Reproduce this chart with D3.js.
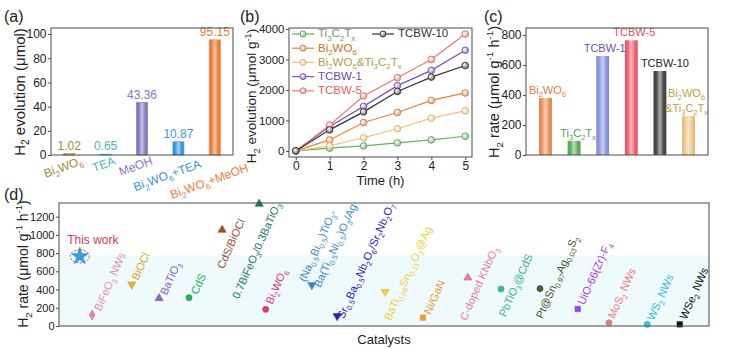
<!DOCTYPE html>
<html>
<head>
<meta charset="utf-8">
<script src="https://cdn.jsdelivr.net/npm/d3@7/dist/d3.min.js"></script>
<style>
  body { margin: 0; background: #fff; }
  text { font-family: "Liberation Sans", Arial, sans-serif; }
</style>
</head>
<body>
<svg id="chart"></svg>
<script>
// ---------- data ----------
// (a) H2 evolution with different sacrificial agents
const aCats = ["Bi_{2}WO_{6}", "TEA", "MeOH", "Bi_{2}WO_{6}+TEA", "Bi_{2}WO_{6}+MeOH"];
const aValues = [1.02, 0.65, 43.36, 10.87, 95.15];

// (b) H2 evolution vs time
const bTimes = [0, 1, 2, 3, 4, 5];
const bSeries = ["Ti_{3}C_{2}T_{x}", "Bi_{2}WO_{6}", "Bi_{2}WO_{6}&Ti_{3}C_{2}T_{x}", "TCBW-1", "TCBW-5", "TCBW-10"];
const bTi3C2Tx = [0, 90, 165, 265, 360, 480];
const bBi2WO6 = [0, 360, 930, 1260, 1655, 1900];
const bMixed = [0, 165, 430, 725, 1075, 1315];
const bTCBW1 = [0, 800, 1460, 2140, 2640, 3300];
const bTCBW5 = [0, 845, 1800, 2400, 3000, 3830];
const bTCBW10 = [0, 690, 1280, 1950, 2420, 2800];

// (c) H2 rate
const cCats = ["Bi_{2}WO_{6}", "Ti_{3}C_{2}T_{x}", "TCBW-1", "TCBW-5", "TCBW-10", "Bi_{2}WO_{6}|&Ti_{3}C_{2}T_{x}"];
const cValues = [380, 95, 660, 765, 560, 262];

// (d) comparison with other catalysts
const dCatalysts = [
  "This work",
  "BiFeO_{3} NWs",
  "BiOCl",
  "BaTiO_{3}",
  "CdS",
  "CdS/BiOCl",
  "0.7BiFeO_{3}/0.3BaTiO_{3}",
  "Bi_{2}WO_{6}",
  "(Na_{0.5}Bi_{0.5})TiO_{3}-|Ba(Ti_{0.5}Ni_{0.5})O_{3}/Ag",
  "Sr_{0.5}Ba_{0.5}Nb_{2}O_{6}/Sr_{2}Nb_{2}O_{7}",
  "BaTi_{0.89}Sn_{0.11}O_{3}@Ag",
  "Ni/GaN",
  "C-doped KNbO_{3}",
  "PbTiO_{3}@CdS",
  "Pt@Sn_{0.97}Ag_{0.03}S_{2}",
  "UiO-66(Zr)-F_{4}",
  "MoS_{2} NWs",
  "WS_{2} NWs",
  "WSe_{2} NWs"
];
const dPosition = [3.2, 5.1, 11.2, 15.4, 20, 25.1, 30.8, 31.8, 38.9, 42.8, 50.2, 56, 62.9, 68, 74, 79.8, 84.6, 90.5, 95.5];
const dRates = [765, 120, 457, 304, 311, 1054, 1340, 183, 450, 110, 376, 92, 530, 406, 410, 187, 36, 18, 18];

// ---------- styles ----------
const aColors = ["#a8953e", "#45bfc2", "#8f7fc4", "#3d9be0", "#f0843f"];
const aTextColors = ["#a08c3a", "#45b9bd", "#8a76bd", "#3a96da", "#ee7d3c"];
const aLabelShift = [[13, 0], [9, 0], [10, 0], [22, 3], [33, 7]];

const bColors = ["#62b262", "#e8843a", "#f3c274", "#8150bb", "#f07676", "#333333"];
const bTextColors = ["#6f9d6f", "#d9682e", "#b39b45", "#7446b2", "#e66060", "#333333"];

const cColors = ["#f2925e", "#5db35d", "#8c9ae0", "#f06272", "#4a4a4a", "#f2c98e"];
const cTextColors = ["#e57a44", "#5a9c5a", "#7450b5", "#e4505e", "#222222", "#c2a040"];
const cLabelShift = [2, 4, 2, 3, 5, -2];

const dColors = ["#3a9fe0", "#e8809c", "#e8b030", "#8a66c0", "#2eae5e", "#a0522d", "#17796a", "#e0358e",
  "#3d8cc4", "#2a22b0", "#f2d23c", "#f0a030", "#f27a92", "#3fb3a2", "#555a38", "#a444e0", "#f07a7a", "#35c6d8", "#111111"];
const dLabelColors = ["#d63b4b", "#eb8fa8", "#e2a82c", "#8a66c0", "#2eae5e", "#9a5030", "#17796a", "#e0358e",
  "#3d8cc4", "#2a22b0", "#f0d048", "#ec9c30", "#f07d94", "#3fada2", "#4d5430", "#a444e0", "#f07a7a", "#35c0d4", "#111111"];
const dSymbols = ["star", "diamond", "triDown", "triUp", "circle", "triUp", "triUp", "circle", "triDown", "triDown",
  "triDown", "square", "triUp", "circle", "circle", "square", "circle", "circle", "square"];
const dLabelOff = [null, [5, -5], [3, -5], [4, -4], [5, -4], [-2, 38], [-24, 94], [3, -6], [-10, -4], [3, 2],
  [2, 28], [4, -4], [-5, 42], [1, 27], [-1, 29], [3, -5], [2, -5], [3, -5], [3, -6]];

// ---------- setup ----------
const width = 734, height = 349;
const AXIS = "#4a4a4a";
const svg = d3.select("#chart").attr("width", width).attr("height", height);
const defs = svg.append("defs");

// text with _{sub} and ^{sup}, shifted with dy
function rich(sel, str) {
  const fs = +sel.attr("font-size");
  let shift = 0;
  str.split(/([_^]\{[^}]*\})/).forEach(p => {
    if (!p) return;
    const t = sel.append("tspan");
    let target = 0, txt = p;
    if (p[0] === "_" && p[1] === "{") { target = fs * 0.28; txt = p.slice(2, -1); t.attr("font-size", fs * 0.68); }
    else if (p[0] === "^" && p[1] === "{") { target = -fs * 0.4; txt = p.slice(2, -1); t.attr("font-size", fs * 0.68); }
    if (target !== shift) t.attr("dy", target - shift);
    shift = target;
    t.text(txt);
  });
  return sel;
}

function barGrad(id, color) {
  const c = d3.color(color);
  const g = defs.append("linearGradient").attr("id", id);
  [[0, c.darker(0.3)], [0.22, c], [0.5, d3.interpolateRgb(c, "#fff")(0.55)], [0.78, c], [1, c.darker(0.3)]]
    .forEach(([o, col]) => g.append("stop").attr("offset", o).attr("stop-color", col));
}

function ballGrad(id, color) {
  const g = defs.append("radialGradient").attr("id", id).attr("cx", "35%").attr("cy", "35%").attr("r", "70%");
  g.append("stop").attr("offset", 0).attr("stop-color", "#fff");
  g.append("stop").attr("offset", 1).attr("stop-color", d3.interpolateRgb(color, "#fff")(0.25));
}

function frame(box) {
  svg.append("rect")
    .attr("x", box.l).attr("y", box.t)
    .attr("width", box.r - box.l).attr("height", box.b - box.t)
    .attr("fill", "none").attr("stroke", AXIS).attr("stroke-width", 1);
}

function styleAxis(g, fs) {
  g.select(".domain").remove();
  g.selectAll("line").attr("stroke", AXIS);
  g.selectAll("text").attr("font-size", fs).attr("fill", "#222");
}

function yTitle(x, y, str, fs) {
  rich(svg.append("text")
    .attr("transform", `translate(${x},${y}) rotate(-90)`)
    .attr("text-anchor", "middle").attr("font-size", fs).attr("fill", "#222"), str);
}

function panelLabel(x, y, s) {
  svg.append("text").attr("x", x).attr("y", y).attr("font-size", 16).attr("fill", "#222").text(s);
}

const fmt = d3.format("d");

// ---------- (a) ----------
const boxA = { l: 51, r: 233, t: 28, b: 155 };
const xa = d3.scaleBand().domain(aCats).range([boxA.l, boxA.r]).paddingInner(0.7).paddingOuter(0.35);
const ya = d3.scaleLinear().domain([0, 105]).range([boxA.b, boxA.t]);
aColors.forEach((c, i) => barGrad("ga" + i, c));

svg.append("g").selectAll("rect")
  .data(aCats)
  .join("rect")
  .attr("x", d => xa(d))
  .attr("width", xa.bandwidth())
  .attr("y", (d, i) => ya(aValues[i]))
  .attr("height", (d, i) => boxA.b - ya(aValues[i]))
  .attr("fill", (d, i) => `url(#ga${i})`)
  .attr("stroke", (d, i) => aColors[i])
  .attr("stroke-width", 0.8);

svg.append("g").selectAll("text")
  .data(aCats)
  .join("text")
  .attr("x", d => xa(d) + xa.bandwidth() / 2)
  .attr("y", (d, i) => ya(aValues[i]) - 4)
  .attr("text-anchor", "middle")
  .attr("font-size", 12)
  .attr("fill", (d, i) => aTextColors[i])
  .text((d, i) => aValues[i].toFixed(2));

aCats.forEach((c, i) => {
  const cx = xa(c) + xa.bandwidth() / 2 + aLabelShift[i][0];
  rich(svg.append("text")
    .attr("transform", `translate(${cx},${160 + aLabelShift[i][1]}) rotate(-20)`)
    .attr("text-anchor", "end").attr("dy", "0.35em")
    .attr("font-size", 12).attr("fill", aTextColors[i]), c);
});

svg.append("g").attr("transform", `translate(${boxA.l},0)`)
  .call(d3.axisLeft(ya).tickValues([0, 20, 40, 60, 80, 100]).tickFormat(fmt).tickSize(3).tickPadding(1.5))
  .call(g => styleAxis(g, 12));
frame(boxA);
yTitle(25, 92, "H_{2} evolution (μmol)", 15);
panelLabel(4, 22, "(a)");

// ---------- (b) ----------
const boxB = { l: 289, r: 472, t: 28, b: 157 };
const xb = d3.scaleLinear().domain([-0.2, 5.2]).range([boxB.l, boxB.r]);
const yb = d3.scaleLinear().domain([-200, 4030]).range([boxB.b, boxB.t]);
const bData = [bTi3C2Tx, bBi2WO6, bMixed, bTCBW1, bTCBW5, bTCBW10];
bColors.forEach((c, i) => ballGrad("gb" + i, c));

const line = d3.line().x((d, i) => xb(bTimes[i])).y(d => yb(d));
bData.forEach((vals, s) => {
  svg.append("path")
    .attr("d", line(vals))
    .attr("fill", "none")
    .attr("stroke", bColors[s])
    .attr("stroke-width", 1.2);
  svg.append("g").selectAll("circle")
    .data(vals)
    .join("circle")
    .attr("cx", (d, i) => xb(bTimes[i]))
    .attr("cy", d => yb(d))
    .attr("r", 3.3)
    .attr("fill", `url(#gb${s})`)
    .attr("stroke", d3.color(bColors[s]).darker(0.3))
    .attr("stroke-width", 0.9);
});

svg.append("g").attr("transform", `translate(${boxB.l},0)`)
  .call(d3.axisLeft(yb).tickValues([0, 1000, 2000, 3000, 4000]).tickFormat(fmt).tickSize(3).tickPadding(1.5))
  .call(g => styleAxis(g, 11.5));
svg.append("g").attr("transform", `translate(0,${boxB.b})`)
  .call(d3.axisBottom(xb).tickValues(bTimes).tickFormat(fmt).tickSize(3).tickPadding(1))
  .call(g => styleAxis(g, 12));
frame(boxB);
yTitle(256, 96, "H_{2} evolution (μmol g^{-1})", 13.5);
svg.append("text").attr("x", (boxB.l + boxB.r) / 2).attr("y", 185)
  .attr("text-anchor", "middle").attr("font-size", 13).attr("fill", "#222").text("Time (h)");
panelLabel(240, 22, "(b)");

// legend
const legPos = [[292, 34], [292, 48.2], [292, 62.4], [292, 76.6], [292, 90.8], [372, 34]];
bSeries.forEach((name, i) => {
  const [lx, ly] = legPos[i];
  const g = svg.append("g").attr("transform", `translate(${lx},${ly})`);
  g.append("line").attr("x1", 0).attr("x2", 22).attr("stroke", bColors[i]).attr("stroke-width", 1.2);
  g.append("circle").attr("cx", 11).attr("r", 3).attr("fill", `url(#gb${i})`)
    .attr("stroke", d3.color(bColors[i]).darker(0.3)).attr("stroke-width", 0.9);
  rich(g.append("text").attr("x", 26).attr("dy", "0.3em").attr("font-size", 11.5)
    .attr("fill", bTextColors[i]), name);
});

// ---------- (c) ----------
const boxC = { l: 526, r: 708, t: 28, b: 155 };
const xc = d3.scaleBand().domain(cCats).range([boxC.l, boxC.r]).paddingInner(0.55).paddingOuter(0.455);
const yc = d3.scaleLinear().domain([0, 847]).range([boxC.b, boxC.t]);
cColors.forEach((c, i) => barGrad("gc" + i, c));

svg.append("g").selectAll("rect")
  .data(cCats)
  .join("rect")
  .attr("x", d => xc(d))
  .attr("width", xc.bandwidth())
  .attr("y", (d, i) => yc(cValues[i]))
  .attr("height", (d, i) => boxC.b - yc(cValues[i]))
  .attr("fill", (d, i) => `url(#gc${i})`);

cCats.forEach((c, i) => {
  const lines = c.split("|");
  const cx = xc(c) + xc.bandwidth() / 2 + cLabelShift[i];
  lines.forEach((ln, k) => {
    rich(svg.append("text")
      .attr("x", cx)
      .attr("y", yc(cValues[i]) - 4 - (lines.length - 1 - k) * 15)
      .attr("text-anchor", "middle").attr("font-size", 11)
      .attr("fill", cTextColors[i]), ln);
  });
});

svg.append("g").attr("transform", `translate(${boxC.l},0)`)
  .call(d3.axisLeft(yc).tickValues([0, 200, 400, 600, 800]).tickFormat(fmt).tickSize(3).tickPadding(1.5))
  .call(g => styleAxis(g, 12));
frame(boxC);
yTitle(499, 92, "H_{2} rate (μmol g^{-1} h^{-1})", 14.5);
panelLabel(484, 22, "(c)");

// ---------- (d) ----------
const boxD = { l: 59, r: 709, t: 203, b: 326 };
const xd = d3.scaleLinear().domain([0, 100]).range([boxD.l, boxD.r]);
const yd = d3.scaleLinear().domain([0, 1350]).range([boxD.b, boxD.t]);

svg.append("rect")
  .attr("x", boxD.l).attr("width", boxD.r - boxD.l)
  .attr("y", yd(775)).attr("height", boxD.b - yd(775))
  .attr("fill", "#eefafc");

const symTypes = {
  star: d3.symbolStar, diamond: d3.symbolDiamond, triUp: d3.symbolTriangle,
  triDown: d3.symbolTriangle, circle: d3.symbolCircle, square: d3.symbolSquare
};

svg.append("g").selectAll("path")
  .data(dCatalysts)
  .join("path")
  .attr("d", (d, i) => d3.symbol().type(symTypes[dSymbols[i]]).size(i === 0 ? 95 : 30)())
  .attr("transform", (d, i) => `translate(${xd(dPosition[i])},${yd(dRates[i])})` + (dSymbols[i] === "triDown" ? " rotate(180)" : ""))
  .attr("fill", (d, i) => dColors[i])
  .attr("stroke", (d, i) => d3.color(dColors[i]).darker(0.4))
  .attr("stroke-width", 0.5);

// "This work" marker highlight
svg.append("ellipse")
  .attr("cx", xd(dPosition[0])).attr("cy", yd(dRates[0]))
  .attr("rx", 9.5).attr("ry", 6.5)
  .attr("fill", "none").attr("stroke", "#b8356e").attr("stroke-width", 0.9)
  .attr("stroke-dasharray", "2,1.5");
svg.append("text")
  .attr("x", xd(dPosition[0]) + 13).attr("y", yd(dRates[0]) - 12)
  .attr("text-anchor", "middle").attr("font-size", 12)
  .attr("fill", dLabelColors[0]).text(dCatalysts[0]);

dCatalysts.forEach((name, i) => {
  if (i === 0) return;
  const [ox, oy] = dLabelOff[i];
  const g = svg.append("g")
    .attr("transform", `translate(${xd(dPosition[i]) + ox},${yd(dRates[i]) + oy}) rotate(-66)`);
  name.split("|").forEach((ln, k) => {
    rich(g.append("text")
      .attr("x", k ? 1 : 0).attr("y", k * 16).attr("dy", "0.35em")
      .attr("font-size", 11).attr("fill", dLabelColors[i]), ln);
  });
});

svg.append("g").attr("transform", `translate(${boxD.l},0)`)
  .call(d3.axisLeft(yd).tickValues([0, 200, 400, 600, 800, 1000, 1200]).tickFormat(fmt).tickSize(3).tickPadding(1.5))
  .call(g => styleAxis(g, 11));
frame(boxD);
yTitle(28, 264, "H_{2} rate (μmol g^{-1} h^{-1})", 14);
svg.append("text").attr("x", (boxD.l + boxD.r) / 2).attr("y", 344)
  .attr("text-anchor", "middle").attr("font-size", 13).attr("fill", "#222").text("Catalysts");
panelLabel(4, 200, "(d)");
</script>
</body>
</html>
